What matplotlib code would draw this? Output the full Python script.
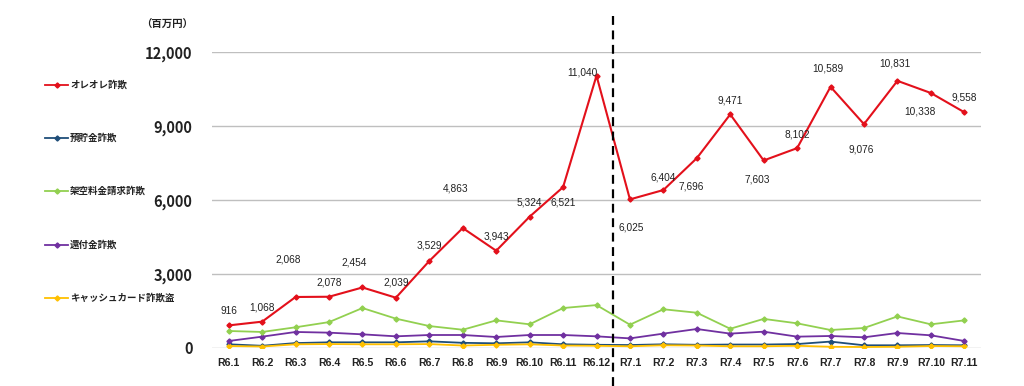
import matplotlib
matplotlib.use("Agg")
import matplotlib.pyplot as plt
from matplotlib.lines import Line2D
import matplotlib.transforms as mtransforms

plt.rcParams['font.family'] = ['Noto Sans CJK JP', 'DejaVu Sans']

months = ["R6.1", "R6.2", "R6.3", "R6.4", "R6.5", "R6.6", "R6.7", "R6.8", "R6.9", "R6.10", "R6.11", "R6.12",
          "R7.1", "R7.2", "R7.3", "R7.4", "R7.5", "R7.6", "R7.7", "R7.8", "R7.9", "R7.10", "R7.11"]

oreore = [916, 1068, 2068, 2078, 2454, 2039, 3529, 4863, 3943, 5324, 6521, 11040,
          6025, 6404, 7696, 9471, 7603, 8102, 10589, 9076, 10831, 10338, 9558]
yochokin = [150, 90, 200, 230, 230, 230, 270, 210, 190, 230, 150, 130,
            120, 150, 130, 140, 140, 160, 260, 110, 110, 120, 110]
kakuu = [690, 650, 840, 1050, 1620, 1190, 890, 740, 1120, 960, 1620, 1740,
         945, 1570, 1430, 780, 1180, 1000, 730, 810, 1280, 960, 1120]
kanpu = [284, 460, 650, 622, 554, 473, 527, 527, 446, 527, 527, 473,
         390, 583, 770, 583, 662, 460, 487, 433, 608, 514, 284]
cashcard = [80, 60, 150, 160, 150, 150, 160, 100, 130, 150, 100, 90,
            70, 110, 100, 70, 70, 90, 50, 40, 50, 80, 70]

series_names = ["オレオレ詐欺", "預貯金詐欺", "架空料金請求詐欺", "還付金詐欺", "キャッシュカード詐欺盗"]
series_values = [oreore, yochokin, kakuu, kanpu, cashcard]
series_colors = ["#E3101B", "#1F4E79", "#92D050", "#7030A0", "#FFC000"]

yticks = [0, 3000, 6000, 9000, 12000]
ytick_labels = ["0", "3,000", "6,000", "9,000", "12,000"]

# label offsets in pixels (dx, dy) for the red series annotations
label_offsets = [(0, 14), (0, 14), (-7, 37), (0, 14), (-8, 25), (0, 15), (0, 15), (-7, 40), (0, 14),
                 (0, 14), (0, -15), (-14, 3), (1, -28), (0, 13), (-6, -28), (0, 14), (-6, -19),
                 (0, 14), (-3, 18), (-3, -25), (-3, 17), (-11, -19), (0, 15)]

W, H = 1024, 386
fig = plt.figure(figsize=(W / 100, H / 100), dpi=100)
ax = fig.add_axes([212 / W, 1 - 348 / H, (981 - 212) / W, (348 - 52) / H])

x = list(range(len(months)))
# draw order: blue, yellow, purple, green, red on top
order = [1, 4, 3, 2, 0]
for z, i in enumerate(order):
    ax.plot(x, series_values[i], color=series_colors[i], lw=1.5 if i == 0 else 1.3,
            marker='D', ms=2.6, mec=series_colors[i], zorder=3 + z * 0.1)

for xi, (v, (dx, dy)) in enumerate(zip(oreore, label_offsets)):
    ax.annotate(f"{v:,}", (xi, v), xytext=(dx, dy), textcoords='offset pixels',
                ha='center', va='center', fontsize=7.3, family='Liberation Sans', color='#222222',
                zorder=6)

ax.set_xlim(-0.5, len(months) - 0.5)
ax.set_ylim(0, 12000)
ax.set_yticks(yticks)
ax.set_yticklabels(ytick_labels, fontsize=10.5, fontweight='bold', color='#222222')
ax.set_xticks(x)
ax.set_xticklabels(months, fontsize=7.6, fontweight='bold', family='Liberation Sans', color='#222222')
ax.tick_params(axis='y', length=0, pad=14)
ax.tick_params(axis='x', length=0, pad=7)
for s in ax.spines.values():
    s.set_visible(False)
ax.grid(axis='y', color='#BFBFBF', lw=1)
ax.set_axisbelow(True)

# dashed divider between R6.12 and R7.1
trans = mtransforms.blended_transform_factory(ax.transData, ax.transAxes)
ax.plot([11.5, 11.5], [-0.13, 1.125], transform=trans, color='black', lw=1.6,
        ls=(0, (4, 2.5)), clip_on=False, zorder=5)

# unit label
fig.text(193 / W, 1 - 25 / H, "（百万円）", ha='right', va='center', fontsize=7.5,
         fontweight='bold', color='#222222')

# legend on the left
leg_y = [85, 138, 191, 245, 298]
for name, col, py in zip(series_names, series_colors, leg_y):
    fy = 1 - py / H
    fig.add_artist(Line2D([45 / W, 68 / W], [fy, fy], color=col, lw=1.3))
    fig.add_artist(Line2D([56.5 / W], [fy], color=col, marker='D', ms=2.6))
    fig.text(70 / W, fy, name, ha='left', va='center', fontsize=6.8, fontweight='bold',
             color='#222222')

fig.savefig("out.png", dpi=100)
